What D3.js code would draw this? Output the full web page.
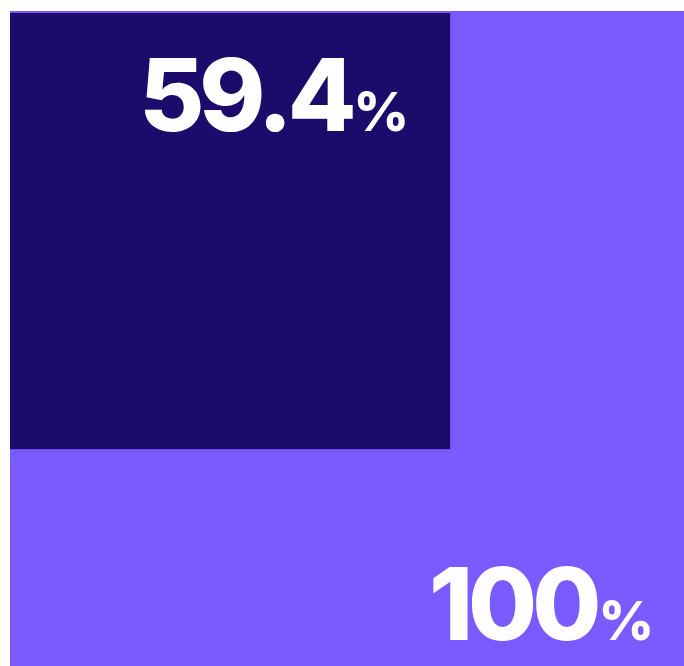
<!DOCTYPE html>
<html>
<head>
<meta charset="utf-8">
<script src="https://cdn.jsdelivr.net/npm/d3@7"></script>
<style>
  html, body { margin: 0; padding: 0; background: #fff; overflow: hidden; }
  svg { display: block; }
  .num { font-family: Inter, "Noto Sans", sans-serif; font-weight: 800; fill: #fff; }
</style>
</head>
<body>
<div id="chart"></div>
<script>
// Share of total, largest drawn first
const labels = ["100", "59.4"];
const values = [100, 59.4];
const colors = ["#7a5bff", "#1c0b6a"];
const tops = [11, 13];

const width = 684, height = 666;
const left = 10;

const svg = d3.select("#chart")
    .append("svg")
    .attr("width", width)
    .attr("height", height);

// side length scales with the value
const side = d3.scaleLinear().domain([0, 100]).range([0, 741]);

const data = values.map((v, i) => ({ label: labels[i], value: v, color: colors[i], top: tops[i] }));

svg.selectAll("rect.sq")
    .data(data)
    .join("rect")
    .attr("class", "sq")
    .attr("x", left)
    .attr("y", d => d.top)
    .attr("width", d => side(d.value))
    .attr("height", d => side(d.value) - (d.top - tops[0]) * 2)
    .attr("fill", d => d.color);

// labels: big one sits at the bottom of the visible area, small one at the top of its square
const label = svg.selectAll("text.num")
    .data(data)
    .join("text")
    .attr("class", "num")
    .attr("text-anchor", "end")
    .attr("x", d => Math.min(left + side(d.value), width + 11) - 41)
    .attr("y", (d, i) => i === 0 ? height - 26 : d.top + 118);

label.append("tspan")
    .attr("font-size", 100)
    .attr("letter-spacing", -5)
    .text(d => d.label);

label.append("tspan")
    .attr("font-size", 54)
    .attr("dx", 2)
    .attr("letter-spacing", 0)
    .text("%");
</script>
</body>
</html>
